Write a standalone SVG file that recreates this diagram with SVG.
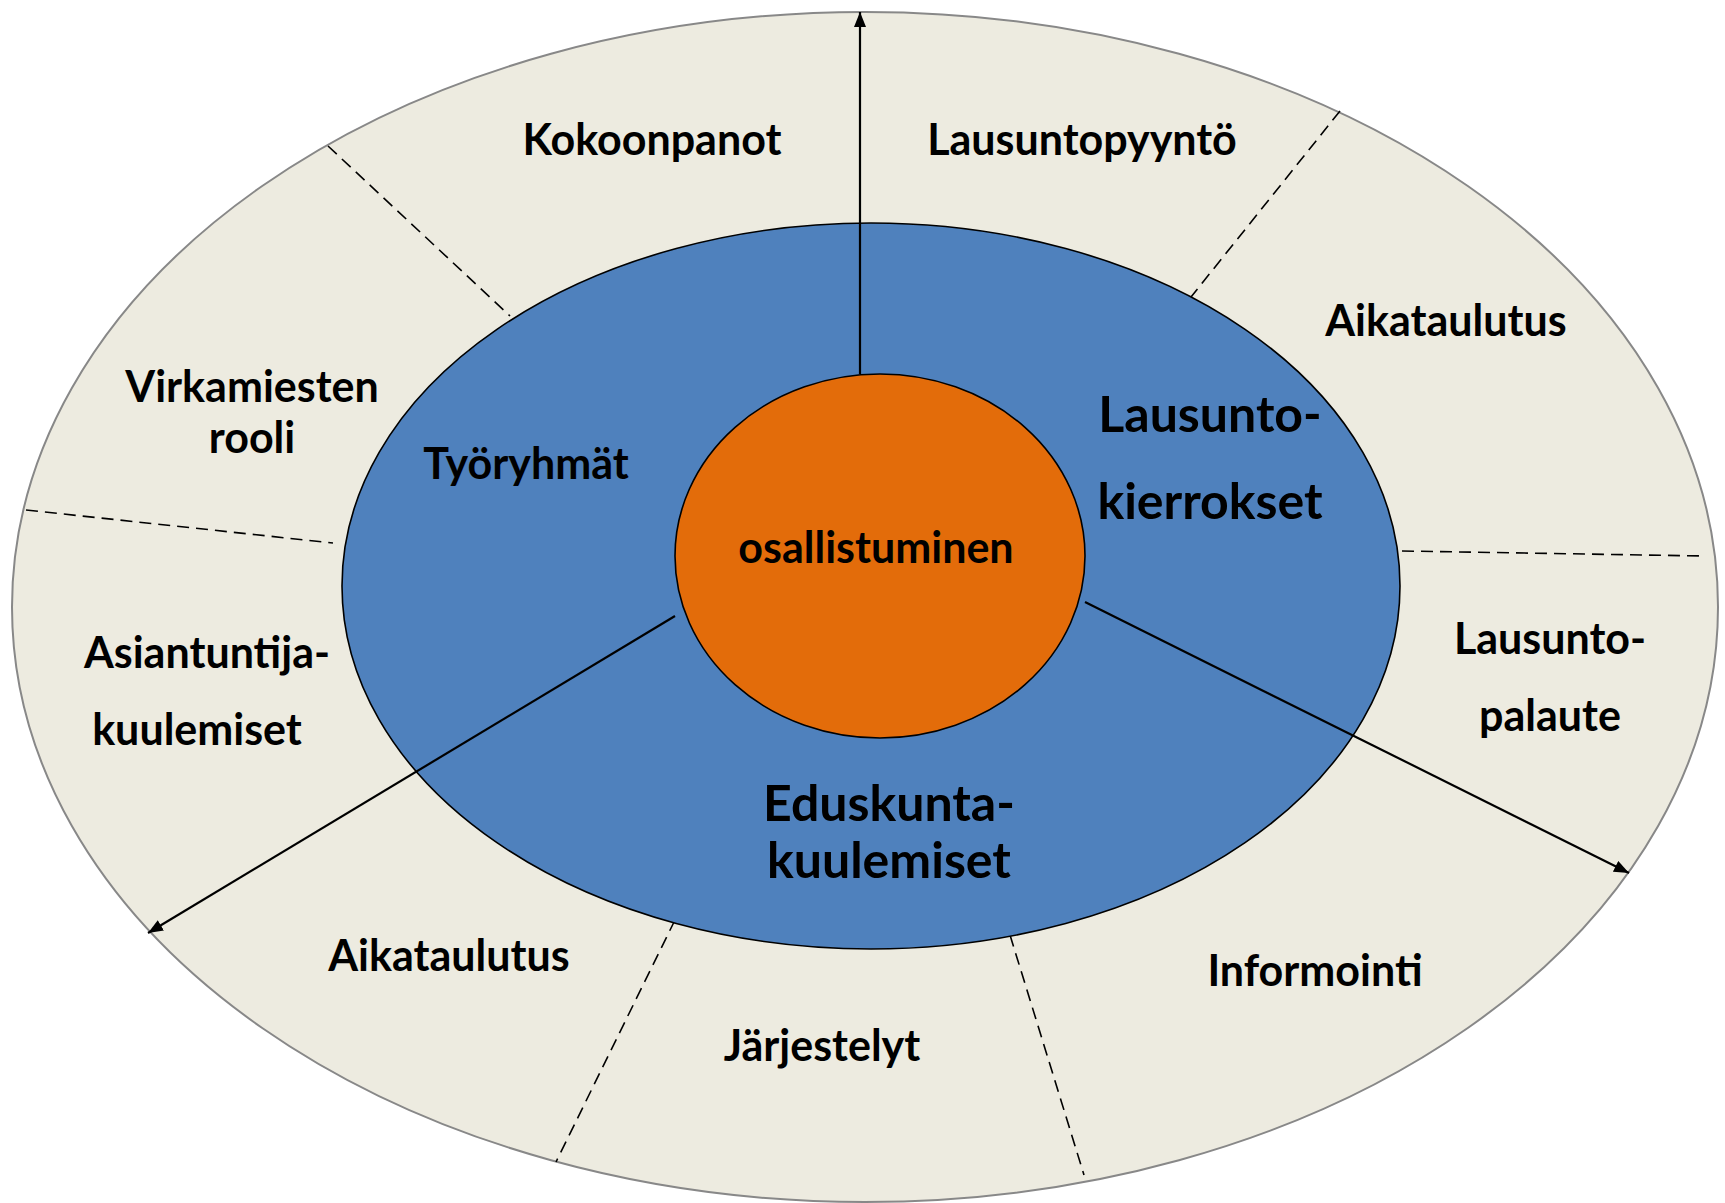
<svg xmlns="http://www.w3.org/2000/svg" width="1725" height="1203" viewBox="0 0 1725 1203">
<defs>
<marker id="arr" markerWidth="15" markerHeight="12" refX="15" refY="6" orient="auto" markerUnits="userSpaceOnUse" viewBox="0 0 15 12">
<path d="M0,0 L15,6 L0,12 z" fill="#000"/>
</marker>
<style>
.t{font-family:"Lato","Open Sans","Liberation Sans",sans-serif;font-weight:bold;fill:#000;text-anchor:middle}
.s{font-size:43px}
.b{font-size:50px}
.dash{stroke:#000;stroke-width:1.6;stroke-dasharray:12,7;fill:none}
.arrow{stroke:#000;stroke-width:2.2;fill:none;marker-end:url(#arr)}
</style>
</defs>
<rect width="1725" height="1203" fill="#fff"/>
<g id="outer-ring">
<ellipse cx="865" cy="607" rx="853" ry="595" fill="#EDEBE0" stroke="#888" stroke-width="2"/>
</g>
<g id="dividers">
<line class="dash" x1="328" y1="146" x2="510" y2="316"/>
<line class="dash" x1="1340" y1="111" x2="1191" y2="297"/>
<line class="dash" x1="26" y1="510" x2="333" y2="543"/>
<line class="dash" x1="1402" y1="551" x2="1705" y2="556"/>
<line class="dash" x1="675" y1="920" x2="556" y2="1162"/>
<line class="dash" x1="1010" y1="935" x2="1084" y2="1175"/>
</g>
<g id="middle-ring">
<ellipse cx="871" cy="586" rx="529" ry="363" fill="#4F81BD" stroke="#000" stroke-width="1.6"/>
</g>
<g id="connectors">
<line class="arrow" x1="860" y1="374" x2="860" y2="12"/>
<line class="arrow" x1="675" y1="616" x2="148" y2="933"/>
<line class="arrow" x1="1085" y1="602" x2="1629" y2="873"/>
</g>
<g id="center">
<ellipse cx="880" cy="556" rx="205" ry="182" fill="#E36C0A" stroke="#000" stroke-width="1.6"/>
<text class="t s" x="876" y="563">osallistuminen</text>
</g>
<g id="tyoryhmat"><text class="t s" x="526" y="479">Työryhmät</text></g>
<g id="lausuntokierrokset"><text class="t b" x="1210" y="432">Lausunto-</text><text class="t b" x="1210" y="519">kierrokset</text></g>
<g id="eduskuntakuulemiset"><text class="t b" x="889" y="821">Eduskunta-</text><text class="t b" x="889" y="878">kuulemiset</text></g>
<g id="kokoonpanot"><text class="t s" x="652" y="155">Kokoonpanot</text></g>
<g id="lausuntopyynto"><text class="t s" x="1082" y="155">Lausuntopyyntö</text></g>
<g id="aikataulutus-1"><text class="t s" x="1446" y="336">Aikataulutus</text></g>
<g id="virkamiesten-rooli"><text class="t s" x="252" y="402">Virkamiesten</text><text class="t s" x="252" y="453">rooli</text></g>
<g id="asiantuntijakuulemiset"><text class="t s" x="207" y="668">Asiantuntija-</text><text class="t s" x="197" y="745">kuulemiset</text></g>
<g id="lausuntopalaute"><text class="t s" x="1550" y="654">Lausunto-</text><text class="t s" x="1550" y="731">palaute</text></g>
<g id="aikataulutus-2"><text class="t s" x="449" y="971">Aikataulutus</text></g>
<g id="informointi"><text class="t s" x="1315" y="986">Informointi</text></g>
<g id="jarjestelyt"><text class="t s" x="822" y="1061">Järjestelyt</text></g>
</svg>
